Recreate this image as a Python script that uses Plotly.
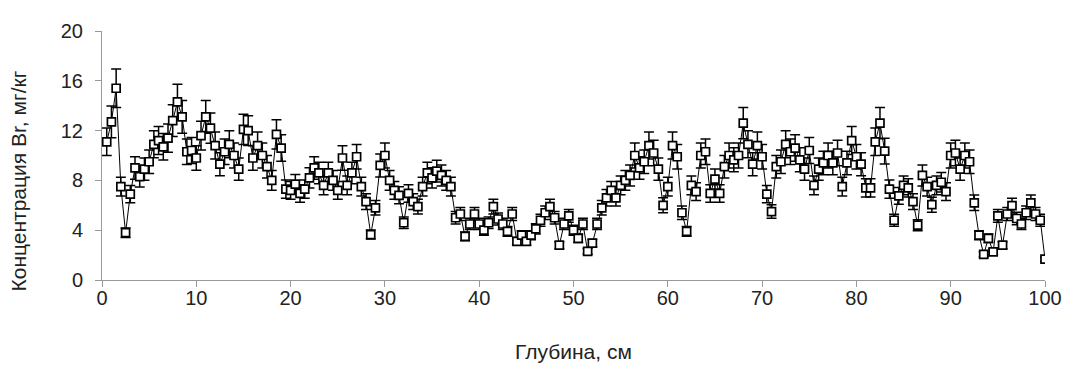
import plotly.graph_objects as go

depth_cm = [
    0.5, 1.0, 1.5, 2.0, 2.5, 3.0, 3.5, 4.0, 4.5, 5.0, 5.5, 6.0, 6.5, 7.0, 7.5, 8.0, 8.5, 9.0, 9.5, 10.0,
    10.5, 11.0, 11.5, 12.0, 12.5, 13.0, 13.5, 14.0, 14.5, 15.0, 15.5, 16.0, 16.5, 17.0, 17.5, 18.0, 18.5, 19.0, 19.5, 20.0,
    20.5, 21.0, 21.5, 22.0, 22.5, 23.0, 23.5, 24.0, 24.5, 25.0, 25.5, 26.0, 26.5, 27.0, 27.5, 28.0, 28.5, 29.0, 29.5, 30.0,
    30.5, 31.0, 31.5, 32.0, 32.5, 33.0, 33.5, 34.0, 34.5, 35.0, 35.5, 36.0, 36.5, 37.0, 37.5, 38.0, 38.5, 39.0, 39.5, 40.0,
    40.5, 41.0, 41.5, 42.0, 42.5, 43.0, 43.5, 44.0, 44.5, 45.0, 45.5, 46.0, 46.5, 47.0, 47.5, 48.0, 48.5, 49.0, 49.5, 50.0,
    50.5, 51.0, 51.5, 52.0, 52.5, 53.0, 53.5, 54.0, 54.5, 55.0, 55.5, 56.0, 56.5, 57.0, 57.5, 58.0, 58.5, 59.0, 59.5, 60.0,
    60.5, 61.0, 61.5, 62.0, 62.5, 63.0, 63.5, 64.0, 64.5, 65.0, 65.5, 66.0, 66.5, 67.0, 67.5, 68.0, 68.5, 69.0, 69.5, 70.0,
    70.5, 71.0, 71.5, 72.0, 72.5, 73.0, 73.5, 74.0, 74.5, 75.0, 75.5, 76.0, 76.5, 77.0, 77.5, 78.0, 78.5, 79.0, 79.5, 80.0,
    80.5, 81.0, 81.5, 82.0, 82.5, 83.0, 83.5, 84.0, 84.5, 85.0, 85.5, 86.0, 86.5, 87.0, 87.5, 88.0, 88.5, 89.0, 89.5, 90.0,
    90.5, 91.0, 91.5, 92.0, 92.5, 93.0, 93.5, 94.0, 94.5, 95.0, 95.5, 96.0, 96.5, 97.0, 97.5, 98.0, 98.5, 99.0, 99.5, 100.0,
]

br_mg_kg = [
    11.1, 12.7, 15.4, 7.5, 3.8, 6.9, 9.0, 8.3, 8.9, 9.5, 10.9, 11.2, 10.7, 11.4, 12.8, 14.3, 13.1, 10.3, 10.4, 9.8,
    11.6, 13.1, 12.2, 10.8, 9.3, 10.3, 10.9, 10.0, 8.9, 12.1, 12.0, 9.8, 10.8, 10.0, 9.1, 8.0, 11.7, 10.6, 7.3, 7.2,
    7.7, 6.95, 7.3, 8.2, 9.0, 8.6, 7.6, 8.6, 8.0, 7.2, 9.8, 7.6, 8.6, 9.9, 7.5, 6.3, 3.65, 5.8, 9.2, 10.0,
    8.0, 7.2, 6.8, 4.6, 6.95, 6.3, 5.9, 7.5, 8.6, 8.2, 8.75, 8.4, 8.0, 7.5, 5.0, 5.3, 3.5, 4.5, 5.3, 4.5,
    4.0, 4.6, 5.9, 4.9, 4.5, 3.9, 5.3, 3.1, 3.6, 3.1, 3.6, 4.1, 4.8, 5.4, 5.9, 5.0, 2.8, 4.5, 5.15, 4.0,
    3.35, 4.5, 2.3, 2.96, 4.5, 5.8, 6.6, 7.2, 6.6, 7.6, 8.0, 8.4, 10.0, 9.0, 9.5, 10.8, 10.2, 8.9, 6.0, 7.5,
    10.8, 9.9, 5.4, 3.9, 7.6, 7.1, 10.0, 10.3, 6.95, 8.1, 6.95, 9.1, 10.0, 9.65, 10.0, 12.6, 10.9, 9.3, 10.8, 9.9,
    6.9, 5.5, 9.1, 9.5, 10.9, 10.3, 10.6, 9.65, 8.9, 10.4, 7.6, 8.9, 9.4, 10.0, 9.4, 10.2, 7.5, 9.4, 11.2, 9.9,
    9.3, 7.4, 7.4, 11.1, 12.6, 10.35, 7.3, 4.8, 6.75, 7.6, 7.4, 6.3, 4.4, 8.4, 7.5, 6.05, 7.6, 7.85, 7.1, 10.0,
    10.2, 8.9, 10.0, 9.5, 6.2, 3.6, 2.06, 3.35, 2.26, 5.15, 2.8, 5.3, 5.97, 4.94, 4.5, 5.4, 6.2, 5.3, 4.8, 1.68,
]

error_percent = 10

x_ticks = [0, 10, 20, 30, 40, 50, 60, 70, 80, 90, 100]
y_ticks = [0, 4, 8, 12, 16, 20]

x_title = "Глубина, см"
y_title = "Концентрация Br, мг/кг"

fig = go.Figure()
fig.add_trace(go.Scatter(
    x=depth_cm,
    y=br_mg_kg,
    mode="lines+markers",
    line=dict(color="black", width=1),
    marker=dict(symbol="square", size=8, color="white",
                line=dict(color="black", width=1.7)),
    error_y=dict(type="percent", value=error_percent, visible=True,
                 color="black", thickness=1.5, width=5),
    showlegend=False,
))

FONT = "Liberation Sans, Arial, sans-serif"
tick_font = dict(family=FONT, size=20, color="#222222")
title_font = dict(family=FONT, size=21, color="#222222")

fig.add_annotation(
    text=y_title, textangle=-90, font=title_font,
    xref="paper", yref="paper", x=0, y=0.5,
    xanchor="center", yanchor="middle",
    xshift=-84, yshift=-26, showarrow=False,
)

fig.update_layout(
    width=1066,
    height=370,
    margin=dict(l=94, r=19, t=13, b=98),
    paper_bgcolor="white",
    plot_bgcolor="white",
    xaxis=dict(
        range=[0, 100],
        tickvals=x_ticks,
        showgrid=False,
        zeroline=False,
        showline=True,
        linecolor="#999999",
        linewidth=1,
        ticks="outside",
        ticklen=6,
        tickcolor="#999999",
        tickfont=tick_font,
        ticklabelstandoff=-6,
        title=dict(text=x_title, font=title_font, standoff=36),
    ),
    yaxis=dict(
        range=[0, 20],
        tickvals=y_ticks,
        showgrid=False,
        zeroline=False,
        showline=True,
        linecolor="#999999",
        linewidth=1,
        ticks="outside",
        ticklen=6,
        tickcolor="#999999",
        tickfont=tick_font,
        ticklabelstandoff=8,
    ),
)

fig.write_html("out.html")
